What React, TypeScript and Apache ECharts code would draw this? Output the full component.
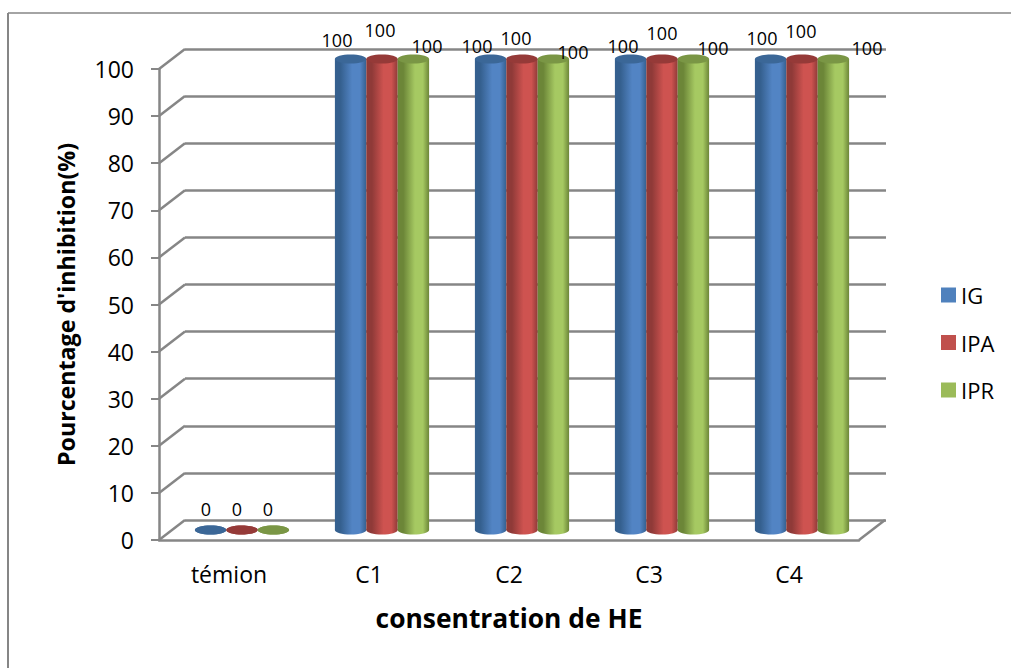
import React, { useEffect, useRef } from "react";
import * as echarts from "echarts";

const categories = ["témion", "C1", "C2", "C3", "C4"];
const seriesNames = ["IG", "IPA", "IPR"];
const igValues = [0, 100, 100, 100, 100];
const ipaValues = [0, 100, 100, 100, 100];
const iprValues = [0, 100, 100, 100, 100];
const yTicks = [0, 10, 20, 30, 40, 50, 60, 70, 80, 90, 100];

const FONT = "'Open Sans', sans-serif";
const DEPTH_X = 26;
const DEPTH_Y = 20;
const BAR_W = 31.4;
const RY = 4.5;

const palettes = [
  { edge: "#35608f", mid: "#5284c4", top: "#3b6797", swatch: "#4f81bd" },
  { edge: "#8f3a38", mid: "#ce5350", top: "#953a38", swatch: "#c0504d" },
  { edge: "#6c8638", mid: "#a6c962", top: "#7a9645", swatch: "#9bbb59" },
];

// Hand-placed label offsets (px from the top of each cylinder), one row per series
const labelDx = [
  [-4.6, -13.6, -13.6, -7.6, -8.6],
  [-5, -2, -6, 0, -1],
  [-5.4, 13.6, 19.6, 19.6, 33.6],
];
const labelDy = [
  [-21, -19, -13, -13, -21],
  [-21, -29, -21, -26, -28],
  [-21, -13, -7, -11, -11],
];

function cylinder(seriesIndex: number) {
  const p = palettes[seriesIndex];
  const grad = new echarts.graphic.LinearGradient(0, 0, 1, 0, [
    { offset: 0, color: p.edge },
    { offset: 0.18, color: p.edge },
    { offset: 0.55, color: p.mid },
    { offset: 0.8, color: p.mid },
    { offset: 1, color: p.edge },
  ]);
  return (params: any, api: any) => {
    const cat = api.value(0);
    const val = api.value(1);
    const base = api.coord([cat, 0]);
    const top = api.coord([cat, val]);
    const x = base[0] + DEPTH_X / 2 + (seriesIndex - 1.5) * BAR_W;
    const yb = base[1] - DEPTH_Y / 2;
    const yt = top[1] - DEPTH_Y / 2;
    const cx = x + BAR_W / 2;
    return {
      type: "group",
      children: [
        { type: "ellipse", shape: { cx, cy: yb, rx: BAR_W / 2, ry: RY }, style: { fill: val > 0 ? grad : p.top } },
        { type: "rect", shape: { x, y: yt, width: BAR_W, height: yb - yt }, style: { fill: grad } },
        { type: "ellipse", shape: { cx, cy: yt, rx: BAR_W / 2, ry: RY }, style: { fill: p.top } },
        {
          type: "text",
          z2: 50,
          style: {
            text: String(val),
            x: cx + labelDx[seriesIndex][params.dataIndex],
            y: yt + labelDy[seriesIndex][params.dataIndex],
            fill: "#000",
            font: `18px ${FONT}`,
            align: "center",
            verticalAlign: "middle",
          },
        },
      ],
    };
  };
}

const line = (x1: number, y1: number, x2: number, y2: number) => ({
  type: "line",
  shape: { x1, y1, x2, y2 },
  style: { stroke: "#868686", lineWidth: 2.5 },
});

export default function App() {
  const ref = useRef<HTMLDivElement>(null);
  useEffect(() => {
    document.body.style.margin = "0";
    const chart = echarts.init(ref.current!, null, { renderer: "svg" });
    const values = [igValues, ipaValues, iprValues];
    chart.setOption({
      animation: false,
      backgroundColor: "#fff",
      graphic: [
        { type: "line", z: -10, shape: { x1: 8, y1: 13, x2: 1011, y2: 13 }, style: { stroke: "#868686", lineWidth: 1.5 } },
        { type: "line", z: -10, shape: { x1: 8, y1: 13, x2: 8, y2: 668 }, style: { stroke: "#868686", lineWidth: 2 } },
      ],
      legend: {
        orient: "vertical",
        left: 936,
        top: 279,
        itemWidth: 15,
        itemHeight: 15,
        itemGap: 25.5,
        icon: "rect",
        data: seriesNames,
        textStyle: { fontFamily: FONT, fontSize: 22, color: "#000" },
      },
      grid: [
        { left: 159, top: 69, width: 700, height: 471 },
        { left: 185, top: 49, width: 701, height: 471 },
      ],
      xAxis: [
        {
          type: "category",
          gridIndex: 0,
          data: categories,
          axisTick: { show: false },
          axisLine: { lineStyle: { color: "#868686", width: 2.5 } },
          axisLabel: { fontFamily: FONT, fontSize: 23, color: "#000", margin: 22 },
          name: "consentration de HE",
          nameLocation: "middle",
          nameGap: 65,
          nameTextStyle: { fontFamily: FONT, fontSize: 26.4, fontWeight: "bold", color: "#000" },
        },
        { type: "category", gridIndex: 1, data: categories, show: false },
      ],
      yAxis: [
        {
          type: "value",
          gridIndex: 0,
          min: 0,
          max: 100,
          interval: 10,
          axisLine: { show: true, lineStyle: { color: "#868686", width: 2.5 } },
          axisTick: { show: true, length: 8, lineStyle: { color: "#868686", width: 2 } },
          axisLabel: { fontFamily: FONT, fontSize: 23, color: "#000", margin: 25 },
          splitLine: { show: false },
          name: "Pourcentage d'inhibition(%)",
          nameLocation: "middle",
          nameGap: 82,
          nameRotate: 90,
          nameTextStyle: { fontFamily: FONT, fontSize: 23.2, fontWeight: "bold", color: "#000" },
        },
        {
          type: "value",
          gridIndex: 1,
          min: 0,
          max: 100,
          interval: 10,
          axisLine: { show: false },
          axisTick: { show: false },
          axisLabel: { show: false },
          splitLine: { show: true, lineStyle: { color: "#868686", width: 2.5 } },
        },
      ],
      series: [
        {
          type: "custom",
          xAxisIndex: 0,
          yAxisIndex: 0,
          silent: true,
          z: 1,
          data: yTicks.map((t) => [0, t]),
          renderItem: (params: any, api: any) => {
            const [x, y] = api.coord([0, api.value(1)]);
            const left = x - api.size([1, 0])[0] / 2;
            const children = [line(left, y, left + DEPTH_X, y - DEPTH_Y)];
            if (api.value(1) === 0) {
              const right = left + api.size([1, 0])[0] * categories.length;
              children.push(line(right, y, right + DEPTH_X, y - DEPTH_Y));
            }
            return { type: "group", children };
          },
        },
        ...seriesNames.map((name, i) => ({
          name,
          type: "custom",
          xAxisIndex: 0,
          yAxisIndex: 0,
          z: 5,
          itemStyle: { color: palettes[i].swatch },
          encode: { x: 0, y: 1 },
          data: values[i].map((v, c) => [c, v]),
          renderItem: cylinder(i),
        })),
      ],
    });
    return () => chart.dispose();
  }, []);
  return <div ref={ref} style={{ width: 1011, height: 668 }} />;
}
